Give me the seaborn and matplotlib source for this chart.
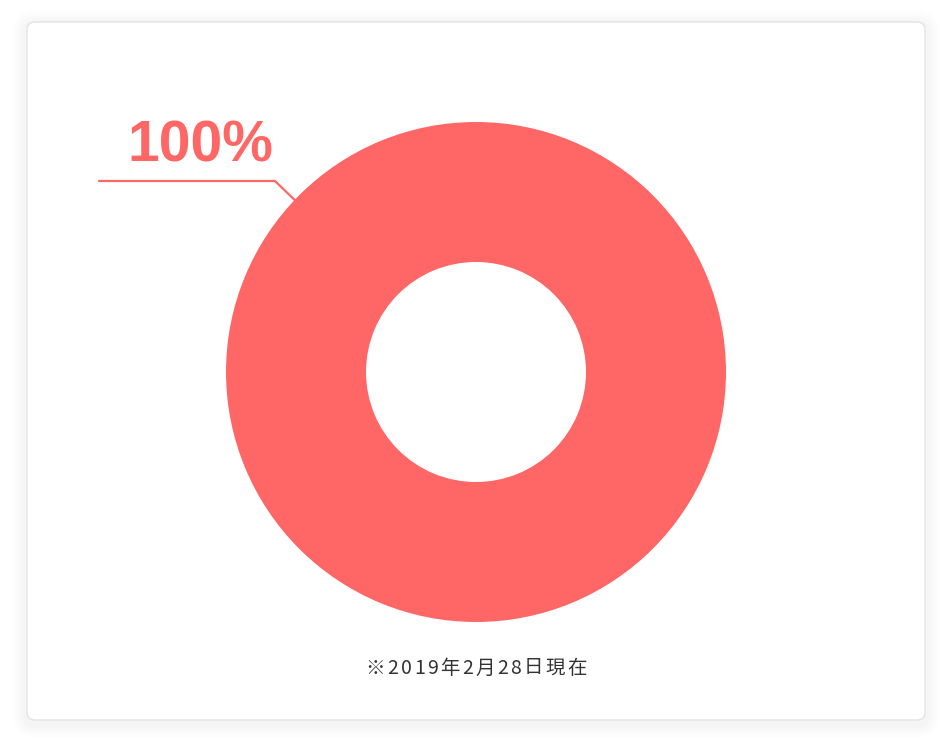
import numpy as np
import matplotlib
matplotlib.use("Agg")
import matplotlib.pyplot as plt
from matplotlib.patches import FancyBboxPatch
from matplotlib import font_manager as fm
import seaborn as sns

# ---- data ----
categories = ["該当"]
values = [100]
value_labels = ["100%"]
note = "※2019年2月28日現在"

sns.set_theme(style="white")
plt.rcParams['font.family'] = ['Noto Sans CJK JP', 'DejaVu Sans']


def pick(cands):
    for c in cands:
        try:
            fm.findfont(fm.FontProperties(family=c, weight="bold"), fallback_to_default=False)
            return c
        except Exception:
            pass
    return "DejaVu Sans"


label_font = pick(["Liberation Sans", "Arimo", "Helvetica", "Arial", "Roboto", "Inter", "DejaVu Sans"])

W, H = 952, 752
fig = plt.figure(figsize=(W / 100, H / 100), dpi=100)
fig.patch.set_facecolor("white")
ax = fig.add_axes([0, 0, 1, 1])
ax.set_xlim(0, W)
ax.set_ylim(H, 0)
ax.set_aspect("equal")
ax.axis("off")

# card shadow + card
for i, a in enumerate([0.006, 0.008, 0.010, 0.012]):
    pad = 14 - i * 3
    ax.add_patch(FancyBboxPatch((27 - pad, 22 - pad + 3), 898 + 2 * pad, 698 + 2 * pad,
                                boxstyle=f"round,pad=0,rounding_size={8 + pad}",
                                facecolor="black", edgecolor="none", alpha=a, zorder=0))
ax.add_patch(FancyBboxPatch((27, 22), 898, 698, boxstyle="round,pad=0,rounding_size=8",
                            facecolor="white", edgecolor="#e3e3e3", linewidth=1, zorder=1))

color = "#ff6666"
cx, cy, R, width = 476, 372, 250, 140
wedges, _ = ax.pie(values, colors=[color], center=(cx, cy), radius=R, startangle=90,
                   counterclock=False, wedgeprops=dict(width=width, edgecolor="none"))
for w in wedges:
    w.set_zorder(2)
ax.set_xlim(0, W)
ax.set_ylim(H, 0)

# leader line
ang = np.deg2rad(136.5)
ex, ey = cx + R * np.cos(ang), cy - R * np.sin(ang)
ax.plot([99, 275, ex], [181, 181, ey], color=color, linewidth=1.6, zorder=3,
        solid_joinstyle="miter")
ax.text(200, 146, value_labels[0], ha="center", va="center", color=color,
        fontsize=41, fontweight="bold", family=label_font, zorder=4)

# footnote with letter spacing
fig.canvas.draw()
renderer = fig.canvas.get_renderer()
fam = ["Noto Sans CJK JP", "DejaVu Sans"]
fs = 14
spacing = 2.3
widths = []
for ch in note:
    t = ax.text(0, 0, ch, fontsize=fs, family=fam)
    widths.append(t.get_window_extent(renderer).width)
    t.remove()
total = sum(widths) + spacing * (len(note) - 1)
x = 476 - total / 2
for ch, wd in zip(note, widths):
    ax.text(x, 668, ch, ha="left", va="center", color="#333333", fontsize=fs,
            family=fam, zorder=4)
    x += wd + spacing

fig.savefig("out.png", dpi=100, facecolor="white")
